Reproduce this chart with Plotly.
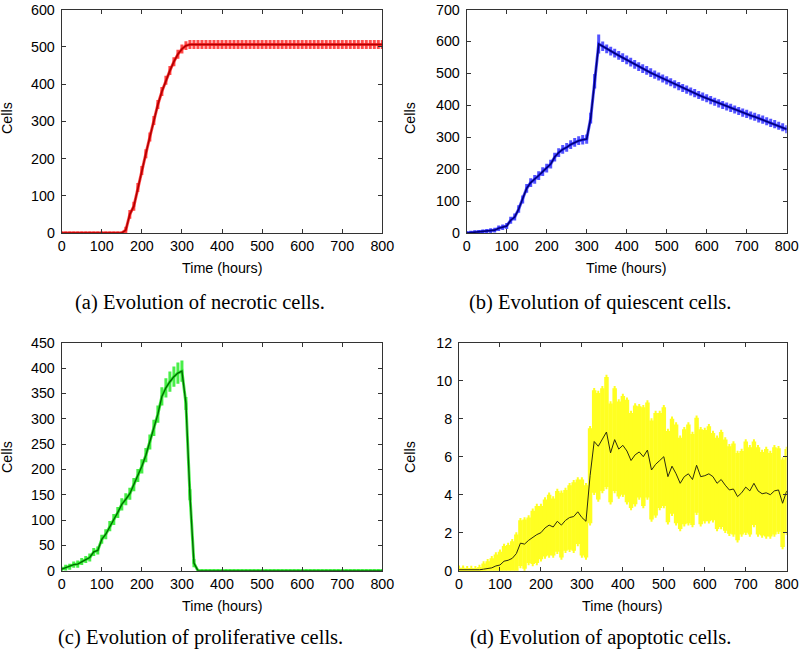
import plotly.graph_objects as go

# ---------------- data ----------------
hours = list(range(0, 801, 10))

necrotic = [0, 0, 0, 0, 0, 0, 0, 0, 0, 0, 0, 0, 0, 0, 0, 0,
            8, 50, 72, 122, 168, 213, 258, 302, 345, 380, 410, 436, 460, 480, 494, 503, 506,
            506, 506, 506, 506, 506, 506, 506, 506, 506, 506, 506, 506, 506, 506, 506, 506,
            506, 506, 506, 506, 506, 506, 506, 506, 506, 506, 506, 506, 506, 506, 506, 506,
            506, 506, 506, 506, 506, 506, 506, 506, 506, 506, 506, 506, 506, 506, 506, 506]
necrotic_err = [0, 0, 0, 0, 0, 0, 0, 0, 0, 0, 0, 0, 0, 0, 0, 0,
                5, 8, 8, 8, 8, 8, 8, 8, 8, 8, 8, 8, 8, 8, 8, 8, 8,
                8, 8, 8, 8, 8, 8, 8, 8, 8, 8, 8, 8, 8, 8, 8, 8,
                8, 8, 8, 8, 8, 8, 8, 8, 8, 8, 8, 8, 8, 8, 8, 8,
                8, 8, 8, 8, 8, 8, 8, 8, 8, 8, 8, 8, 8, 8, 8, 8]

quiescent = [0, 1, 2, 3, 4, 5, 7, 9, 15, 18, 22, 40, 50, 75, 105, 140, 158, 168, 180, 192,
             203, 216, 238, 252, 262, 268, 277, 284, 289, 292, 294, 360, 475, 592, 585, 577,
             570, 563, 556, 549, 542, 535, 528, 521, 515, 509, 502, 496, 490, 484, 478, 472,
             466, 460, 454, 449, 443, 438, 432, 427, 422, 416, 411, 406, 401, 396, 392, 387,
             382, 377, 373, 368, 364, 359, 355, 350, 345, 341, 336, 331, 325]
quiescent_err = [1, 1, 2, 2, 2, 3, 3, 3, 4, 4, 5,
                 6, 6, 7, 8, 9, 9, 9, 9, 9, 9, 9, 9, 9, 9, 9, 9, 9, 9, 10, 10,
                 12, 18, 25,
                 10, 9, 9, 9, 9, 9, 9, 9, 9, 9, 9, 9, 9, 8, 8, 8, 8, 8, 8, 8, 8, 8, 8, 8,
                 8, 8, 8, 8, 8, 8, 8, 8, 8, 8, 8, 8, 8, 8, 8, 8, 8, 8, 8, 8, 8, 8, 8]

proliferative = [3, 6, 8, 12, 13, 18, 22, 26, 37, 40, 62, 72, 88, 101, 115, 131, 141, 152,
                 170, 188, 206, 228, 254, 282, 309, 344, 361, 373, 383, 390, 394, 330, 150, 15,
                 0, 0, 0, 0, 0, 0, 0, 0, 0, 0, 0, 0, 0, 0, 0, 0, 0, 0, 0, 0, 0, 0, 0, 0,
                 0, 0, 0, 0, 0, 0, 0, 0, 0, 0, 0, 0, 0, 0, 0, 0, 0, 0, 0, 0, 0, 0, 0]
proliferative_err = [2, 3, 3, 3, 4, 4, 4, 5, 5, 5,
                     6, 7, 7, 8, 8, 9, 9, 9, 10, 10, 11, 11, 12, 13, 14, 15, 16, 17, 17, 18, 18,
                     10, 8, 5,
                     0, 0, 0, 0, 0, 0, 0, 0, 0, 0, 0, 0, 0, 0, 0, 0, 0, 0, 0, 0, 0, 0, 0, 0,
                     0, 0, 0, 0, 0, 0, 0, 0, 0, 0, 0, 0, 0, 0, 0, 0, 0, 0, 0, 0, 0, 0, 0]

apoptotic = [0.05, 0.05, 0.03, 0.04, 0.03, 0.05, 0.08, 0.1, 0.15, 0.25, 0.3, 0.5, 0.55, 0.65,
             0.9, 1.45, 1.4, 1.6, 1.75, 1.9, 2.0, 2.25, 2.4, 2.3, 2.6, 2.4, 2.65, 2.8, 2.85,
             3.1, 2.8, 2.6, 5.0, 6.8, 6.55, 6.9, 7.3, 6.2, 6.9, 6.4, 6.6, 6.3, 5.8, 6.1, 6.25,
             6.0, 6.35, 5.3, 5.6, 5.8, 6.0, 4.95, 5.5, 5.1, 4.6, 4.95, 5.1, 4.8, 5.55, 4.95,
             5.0, 5.1, 4.95, 4.6, 4.8, 4.5, 4.25, 4.3, 3.9, 4.1, 4.4, 4.2, 4.6, 4.2, 4.05,
             4.1, 4.0, 4.2, 4.25, 3.55, 4.2]
apoptotic_err = [0.1, 0.1, 0.1, 0.1, 0.1, 0.15,
                 0.3, 0.4, 0.5, 0.6, 0.7, 0.8, 0.8, 0.9, 1.0,
                 1.2, 1.3, 1.2, 1.4, 1.5, 1.4, 1.5, 1.6, 1.5, 1.6, 1.7, 1.6, 1.7, 1.8, 1.7, 2.0, 1.9,
                 2.5, 2.7, 2.8, 2.7, 2.9, 2.6, 2.7, 2.5, 2.6, 2.7, 2.5, 2.6, 2.4, 2.6, 2.5, 2.6,
                 2.7, 2.5, 2.6, 2.4, 2.5, 2.6, 2.4, 2.5, 2.6, 2.4, 2.5, 2.5, 2.4, 2.5, 2.3, 2.4,
                 2.5, 2.4, 2.3, 2.4, 2.3, 2.2, 2.4, 2.3, 2.2, 2.3, 2.2, 2.3, 2.2, 2.3, 2.2, 2.3, 2.2]

captions = ["(a) Evolution of necrotic cells.", "(b) Evolution of quiescent cells.",
            "(c) Evolution of proliferative cells.", "(d) Evolution of apoptotic cells."]
x_title = "Time (hours)"
y_title = "Cells"

# ---------------- figure ----------------
W, H = 800, 649
panels = [
    dict(y=necrotic, e=necrotic_err, ec="rgba(255,30,30,0.8)", lc="#b00000", lw=1.6,
         xd=(61.7, 382.3), yd=(9.5, 233), yr=[0, 600], dt=100, et=3, ew=1.5),
    dict(y=quiescent, e=quiescent_err, ec="rgba(40,40,255,0.8)", lc="#00007a", lw=1.6,
         xd=(466.7, 786.7), yd=(9.5, 233), yr=[0, 700], dt=100, et=3, ew=1.5),
    dict(y=proliferative, e=proliferative_err, ec="rgba(40,235,40,0.85)", lc="#006a00", lw=1.4,
         xd=(61.7, 382.3), yd=(342.7, 570.7), yr=[0, 450], dt=50, et=3, ew=1.5),
    dict(y=apoptotic, e=apoptotic_err, ec="#ffff22", lc="#2b2b10", lw=1,
         xd=(459, 786.7), yd=(342.7, 570.7), yr=[0, 12], dt=2, et=4.5, ew=1),
]

fig = go.Figure()
font_sans = "Liberation Sans, Arial, Helvetica, sans-serif"
FS = 14.3
annotations = []
for i, p in enumerate(panels):
    ax = "" if i == 0 else str(i + 1)
    fig.add_trace(go.Scatter(
        x=hours, y=p["y"], mode="lines", xaxis="x" + ax, yaxis="y" + ax,
        line=dict(color=p["ec"], width=3),
        error_y=dict(type="data", array=p["e"], visible=True, color=p["ec"],
                     thickness=p["et"], width=p["ew"]),
        hoverinfo="skip", showlegend=False))
    fig.add_trace(go.Scatter(
        x=hours, y=p["y"], mode="lines", xaxis="x" + ax, yaxis="y" + ax,
        line=dict(color=p["lc"], width=p["lw"]), showlegend=False))
    common = dict(showline=True, linecolor="#333333", linewidth=1, mirror="ticks",
                  ticks="inside", ticklen=4, tickcolor="#333333", showgrid=False,
                  zeroline=False, automargin=False, ticklabeloverflow="allow",
                  tickfont=dict(family=font_sans, size=FS, color="black"))
    xd = [p["xd"][0] / W, p["xd"][1] / W]
    yd = [1 - p["yd"][1] / H, 1 - p["yd"][0] / H]
    fig.update_layout(**{
        "xaxis" + ax: dict(domain=xd, range=[0, 800], dtick=100, anchor="y" + ax, **common),
        "yaxis" + ax: dict(domain=yd, range=p["yr"], dtick=p["dt"], anchor="x" + ax,
                           ticklabelstandoff=3, **common),
    })
    cx = (p["xd"][0] + p["xd"][1]) / 2 / W
    top_row = i < 2
    annotations.append(dict(text=x_title, x=cx, y=1 - (268 if top_row else 606) / H,
                            xref="paper", yref="paper", showarrow=False,
                            xanchor="center", yanchor="middle",
                            font=dict(family=font_sans, size=FS, color="black")))
    annotations.append(dict(text=y_title, x=(7 if i % 2 == 0 else 410) / W,
                            y=1 - (118 if top_row else 457) / H, textangle=-90,
                            xref="paper", yref="paper", showarrow=False,
                            xanchor="center", yanchor="middle",
                            font=dict(family=font_sans, size=FS, color="black")))
    annotations.append(dict(text=captions[i], x=(200 if i % 2 == 0 else 600) / W,
                            y=1 - (302 if top_row else 637) / H,
                            xref="paper", yref="paper", showarrow=False,
                            xanchor="center", yanchor="middle",
                            font=dict(family="Liberation Serif, Times New Roman, serif",
                                      size=20.5, color="black")))

fig.update_layout(width=W, height=H, margin=dict(l=0, r=0, t=0, b=0),
                  paper_bgcolor="white", plot_bgcolor="white", showlegend=False,
                  annotations=annotations)
fig.write_html("out.html", config={"displayModeBar": False},
               post_script="document.body.style.margin='0';document.body.style.overflow='hidden';")
